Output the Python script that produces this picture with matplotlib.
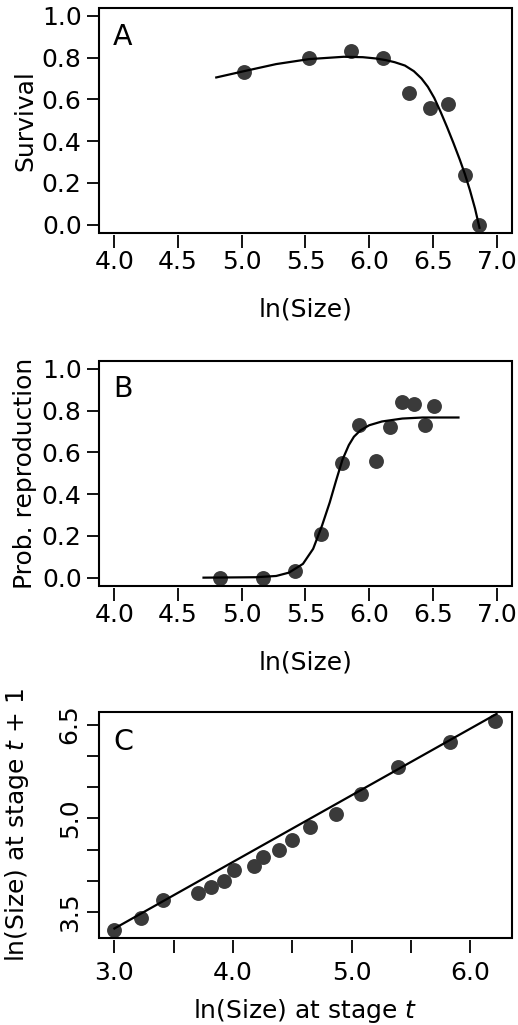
import matplotlib
matplotlib.use("Agg")
import matplotlib.pyplot as plt
from matplotlib.patches import Rectangle
from matplotlib.ticker import FormatStrFormatter

plt.rcParams["font.family"] = ["DejaVu Sans"]
plt.rcParams["mathtext.fontset"] = "dejavusans"

# Panel A: survival vs ln(size)
surv_size = [5.02, 5.53, 5.86, 6.11, 6.31, 6.48, 6.62, 6.75, 6.86]
surv_prob = [0.73, 0.80, 0.83, 0.80, 0.63, 0.56, 0.58, 0.24, 0.00]
surv_fit_x = [4.80, 5.01, 5.27, 5.53, 5.80, 5.95, 6.05, 6.13, 6.20, 6.28, 6.35,
              6.41, 6.46, 6.51, 6.56, 6.61, 6.66, 6.71, 6.75, 6.79, 6.83, 6.865]
surv_fit_y = [0.705, 0.734, 0.769, 0.793, 0.804, 0.802, 0.796, 0.788, 0.778, 0.762,
              0.735, 0.700, 0.660, 0.607, 0.540, 0.468, 0.392, 0.312, 0.243, 0.165,
              0.077, -0.015]

# Panel B: probability of reproduction
repr_size = [4.83, 5.17, 5.42, 5.62, 5.79, 5.92, 6.05, 6.16, 6.26, 6.35, 6.44, 6.51]
repr_prob = [0.00, 0.00, 0.03, 0.21, 0.55, 0.73, 0.56, 0.72, 0.84, 0.83, 0.73, 0.82]
repr_fit_x = [4.70, 5.11, 5.27, 5.37, 5.48, 5.56, 5.63, 5.69, 5.74, 5.79, 5.84,
              5.88, 5.93, 6.00, 6.10, 6.26, 6.42, 6.70]
repr_fit_y = [0.0, 0.002, 0.008, 0.024, 0.066, 0.138, 0.250, 0.360, 0.465, 0.565,
              0.635, 0.675, 0.705, 0.730, 0.748, 0.762, 0.767, 0.767]

# Panel C: growth, size at t vs size at t+1
grow_t = [3.00, 3.22, 3.41, 3.70, 3.81, 3.92, 4.01, 4.18, 4.25, 4.39, 4.50,
          4.65, 4.87, 5.08, 5.39, 5.83, 6.21]
grow_t1 = [3.22, 3.40, 3.69, 3.80, 3.91, 4.00, 4.17, 4.24, 4.38, 4.50, 4.65,
           4.87, 5.07, 5.39, 5.82, 6.22, 6.56]
grow_fit_x = [3.00, 6.22]
grow_fit_y = [3.24, 6.67]

PT_COLOR = "#3a3a3a"
FS = 18


def style_axes(ax, xpad):
    for s in ax.spines.values():
        s.set_visible(False)
    # R-style: x ticks start a hair below the box
    ax.spines["bottom"].set_position(("outward", 1.5))
    ax.add_patch(Rectangle((0, 0), 1, 1, transform=ax.transAxes, fill=False,
                           lw=1.5, ec="black", clip_on=False, zorder=5))
    ax.tick_params(direction="out", length=9, width=1.3, labelsize=FS)
    ax.tick_params(axis="x", pad=xpad)
    ax.tick_params(axis="y", pad=3.5)


fig = plt.figure(figsize=(5.18, 10.25), dpi=100)
left, width, height = 99 / 518, 413 / 518, 225.5 / 1025

# A
ax = fig.add_axes([left, 1 - 233 / 1025, width, height])
ax.scatter(surv_size, surv_prob, s=115, color=PT_COLOR, zorder=2, linewidths=0)
ax.plot(surv_fit_x, surv_fit_y, color="black", lw=1.6, zorder=3)
ax.set_xlim(3.88, 7.12)
ax.set_ylim(-0.04, 1.04)
ax.set_xticks([4.0, 4.5, 5.0, 5.5, 6.0, 6.5, 7.0])
ax.set_yticks([0.0, 0.2, 0.4, 0.6, 0.8, 1.0])
ax.xaxis.set_major_formatter(FormatStrFormatter("%.1f"))
ax.yaxis.set_major_formatter(FormatStrFormatter("%.1f"))
style_axes(ax, 1.5)
ax.set_xlabel("ln(Size)", fontsize=FS)
ax.set_ylabel("Survival", fontsize=FS)
ax.xaxis.set_label_coords(0.5, -0.288)
ax.yaxis.set_label_coords(-0.150, 0.5)
ax.text(0.034, 0.835, "A", transform=ax.transAxes, fontsize=20.5, va="baseline")

# B
ax = fig.add_axes([left, 1 - 586 / 1025, width, height])
ax.scatter(repr_size, repr_prob, s=115, color=PT_COLOR, zorder=2, linewidths=0)
ax.plot(repr_fit_x, repr_fit_y, color="black", lw=1.6, zorder=3)
ax.set_xlim(3.88, 7.12)
ax.set_ylim(-0.04, 1.04)
ax.set_xticks([4.0, 4.5, 5.0, 5.5, 6.0, 6.5, 7.0])
ax.set_yticks([0.0, 0.2, 0.4, 0.6, 0.8, 1.0])
ax.xaxis.set_major_formatter(FormatStrFormatter("%.1f"))
ax.yaxis.set_major_formatter(FormatStrFormatter("%.1f"))
style_axes(ax, 1.5)
ax.set_xlabel("ln(Size)", fontsize=FS)
ax.set_ylabel("Prob. reproduction", fontsize=FS)
ax.xaxis.set_label_coords(0.5, -0.284)
ax.yaxis.set_label_coords(-0.150, 0.5)
ax.text(0.034, 0.837, "B", transform=ax.transAxes, fontsize=20.5, va="baseline")

# C
ax = fig.add_axes([left, 1 - 937.7 / 1025, width, height])
ax.scatter(grow_t, grow_t1, s=115, color=PT_COLOR, zorder=2, linewidths=0)
ax.plot(grow_fit_x, grow_fit_y, color="black", lw=1.6, zorder=3)
ax.set_xlim(2.87, 6.35)
ax.set_ylim(3.093, 6.697)
ax.set_xticks([3.0, 3.5, 4.0, 4.5, 5.0, 5.5, 6.0])
ax.set_xticklabels(["3.0", "", "4.0", "", "5.0", "", "6.0"])
ax.set_yticks([3.5, 4.0, 4.5, 5.0, 5.5, 6.0, 6.5])
ax.set_yticklabels(["3.5", "", "", "5.0", "", "", "6.5"])
style_axes(ax, 6)
for lab in ax.get_yticklabels():
    lab.set_rotation(90)
    lab.set_va("center")
ax.set_xlabel("ln(Size) at stage $t$", fontsize=FS)
ax.set_ylabel("ln(Size) at stage $t$ + $\\mathit{1}$", fontsize=FS)
ax.xaxis.set_label_coords(0.5, -0.262)
ax.yaxis.set_label_coords(-0.165, 0.5)
ax.text(0.034, 0.832, "C", transform=ax.transAxes, fontsize=20.5, va="baseline")

fig.savefig("out.png", dpi=100)
